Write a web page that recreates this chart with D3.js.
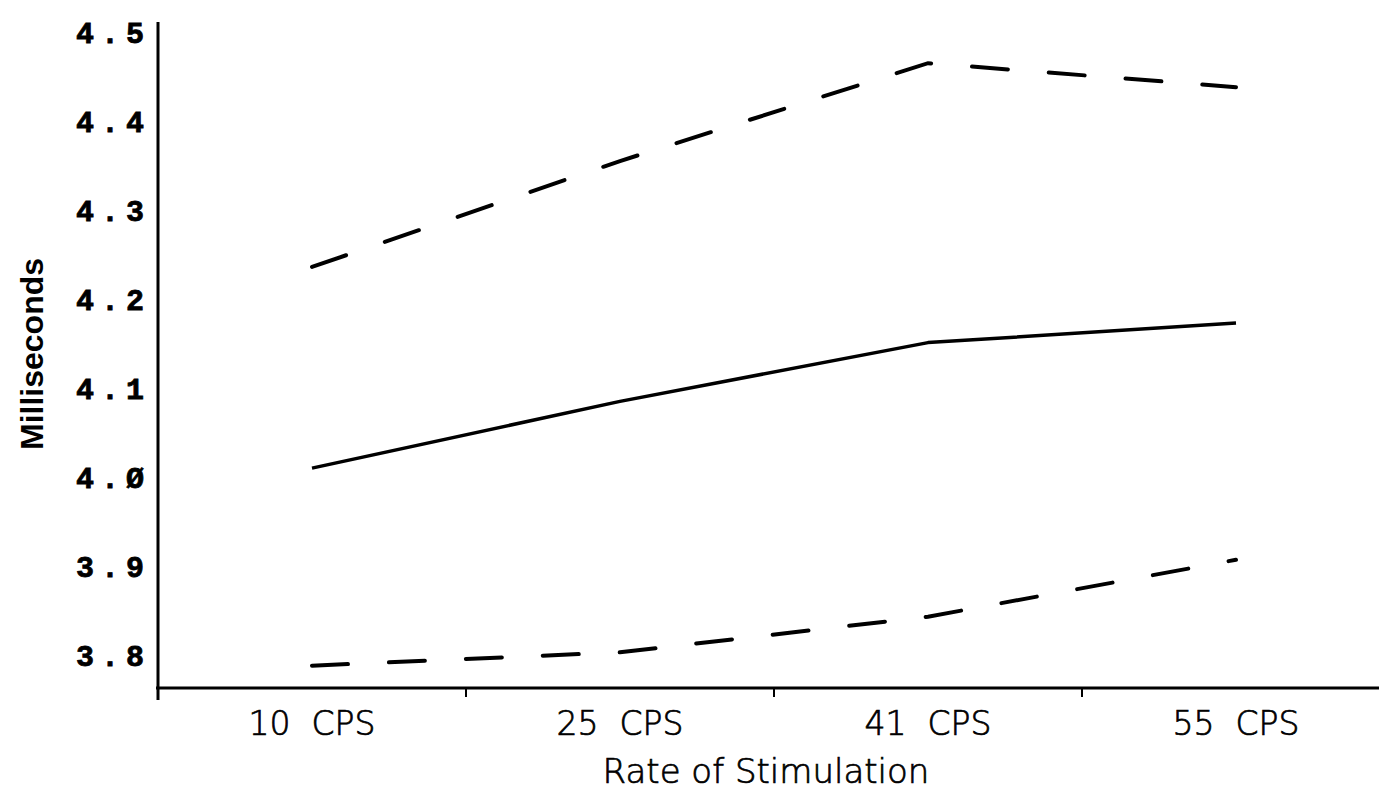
<!DOCTYPE html>
<html>
<head>
<meta charset="utf-8">
<script src="https://cdn.jsdelivr.net/npm/d3@7"></script>
<style>
  html, body { margin: 0; padding: 0; background: #fff; }
  svg { display: block; }
</style>
</head>
<body>
<svg id="chart" width="1379" height="793"></svg>
<script>
// Latency (ms) by rate of stimulation: mean with upper/lower bounds
const categories = ["10 CPS", "25 CPS", "41 CPS", "55 CPS"];
const meanMs  = [4.010, 4.085, 4.151, 4.173];
const upperMs = [4.236, 4.355, 4.465, 4.438];
const lowerMs = [3.788, 3.803, 3.843, 3.907];
const yTickValues = [3.8, 3.9, 4.0, 4.1, 4.2, 4.3, 4.4, 4.5];
const yTickLabels = ["3.8", "3.9", "4.Ø", "4.1", "4.2", "4.3", "4.4", "4.5"];

const W = 1379, H = 793;
const plotLeft = 158, axisY = 688, plotTop = 22;

const svg = d3.select("#chart");

const x = d3.scaleBand().domain(categories).range([plotLeft, plotLeft + 4 * 308]).paddingInner(0).paddingOuter(0);
const cx = c => x(c) + x.bandwidth() / 2;
const y = d3.scaleLinear().domain([3.8, 4.5]).range([655, 32]);

// y axis: labels only, plus a heavy spine
const yAxis = d3.axisLeft(y)
  .tickValues(yTickValues)
  .tickSize(0)
  .tickPadding(0)
  .tickFormat((d, i) => yTickLabels[i]);

const gy = svg.append("g").attr("transform", `translate(${plotLeft},0)`).call(yAxis);
gy.select(".domain").remove();
gy.selectAll("text")
  .attr("x", -7)
  .attr("dy", "0.36em")
  .style("font-family", "'Liberation Mono', 'DejaVu Sans Mono', monospace")
  .style("font-weight", "bold")
  .style("font-size", "30px")
  .style("letter-spacing", "7px")
  .attr("fill", "#000")
  .attr("stroke", "#000")
  .attr("stroke-width", 0.8);

svg.append("line")
  .attr("x1", plotLeft).attr("x2", plotLeft)
  .attr("y1", plotTop).attr("y2", axisY + 12)
  .attr("stroke", "#000").attr("stroke-width", 3);

// x axis: category labels centred in bands, ticks on band edges
const xAxis = d3.axisBottom(x).tickSize(0).tickPadding(0);
const gx = svg.append("g").attr("transform", `translate(0,${axisY})`).call(xAxis);
gx.select(".domain").remove();
gx.selectAll("text")
  .attr("y", 47)
  .attr("dy", 0)
  .text(d => d.replace(" ", "  "))
  .style("white-space", "pre")
  .style("font-family", "'DejaVu Sans', sans-serif")
  .style("font-weight", "200")
  .style("font-size", "33px")
  .attr("fill", "#000")
  .attr("stroke", "#000")
  .attr("stroke-width", 0.7);

svg.append("line")
  .attr("x1", plotLeft - 2).attr("x2", W)
  .attr("y1", axisY).attr("y2", axisY)
  .attr("stroke", "#000").attr("stroke-width", 3);

svg.append("g").selectAll("line")
  .data(categories.slice(1))
  .join("line")
  .attr("x1", d => x(d)).attr("x2", d => x(d))
  .attr("y1", axisY).attr("y2", axisY + 9)
  .attr("stroke", "#000").attr("stroke-width", 2);

// axis titles
svg.append("text")
  .attr("transform", `translate(43,${354}) rotate(-90)`)
  .attr("text-anchor", "middle")
  .style("font-family", "'Liberation Sans', Arial, sans-serif")
  .style("font-weight", "bold")
  .style("font-size", "32px")
  .text("Milliseconds");

svg.append("text")
  .attr("x", 766).attr("y", 783)
  .attr("text-anchor", "middle")
  .style("font-family", "'DejaVu Sans', sans-serif")
  .style("font-weight", "200")
  .style("font-size", "34px")
  .attr("stroke", "#000")
  .attr("stroke-width", 0.7)
  .text("Rate of Stimulation");

// series lines
const line = d3.line().x((d, i) => cx(categories[i])).y(d => y(d));

svg.append("path")
  .datum(meanMs)
  .attr("d", line)
  .attr("fill", "none")
  .attr("stroke", "#000")
  .attr("stroke-width", 3.5)
  .attr("stroke-linejoin", "round");

[upperMs, lowerMs].forEach(series => {
  svg.append("path")
    .datum(series)
    .attr("d", line)
    .attr("fill", "none")
    .attr("stroke", "#000")
    .attr("stroke-width", 4)
    .attr("stroke-linecap", "round")
    .attr("stroke-dasharray", "36,41");
});
</script>
</body>
</html>
